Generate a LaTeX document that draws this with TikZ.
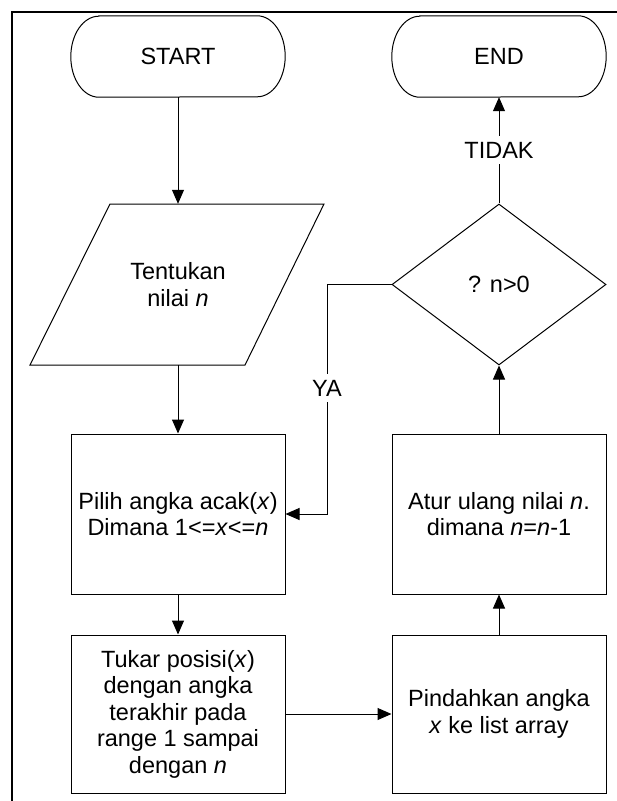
\documentclass[tikz,border=0pt]{standalone}
\usepackage{fontspec}
\setmainfont{Liberation Sans}
\usetikzlibrary{shapes.geometric,arrows.meta,calc}
\newcommand\drawpill[1]{\draw[line width=1pt] ([xshift=28pt]#1.north west) -- ([xshift=-28pt]#1.north east) arc[start angle=90,end angle=-90,x radius=28pt,y radius=40.5pt] -- ([xshift=28pt]#1.south west) arc[start angle=270,end angle=90,x radius=28pt,y radius=40.5pt] -- cycle;}
\begin{document}
\begin{tikzpicture}[x=1pt,y=-1pt,
  every node/.style={font=\fontsize{23.5}{26.5}\selectfont, align=center},
  boxnode/.style={draw, line width=1pt, minimum width=214pt, minimum height=160pt, inner sep=0pt},
  pill/.style={minimum width=214pt, minimum height=81pt, inner sep=0pt},
  arr/.style={line width=1pt, -{Triangle[length=14pt,width=12pt]}},
  lbl/.style={fill=white, inner xsep=2pt, inner ysep=6pt},
]
\useasboundingbox (0,0) rectangle (617,801);
% frame
\draw[line width=2.2pt] (12,801) -- (12,12) -- (617,12);

% terminals
\node[pill] (start) at (178,56.5) {START};
\drawpill{start}
\node[pill] (end) at (499,56.5) {END};
\drawpill{end}

% input parallelogram
\node[minimum width=214pt, minimum height=161pt, inner sep=0pt] (inp) at (178,284.5) {Tentukan\\nilai \textit{n}};
\draw[line width=1pt] ($(inp.center)+(-148,80.5)$) -- ($(inp.center)+(67,80.5)$) -- ($(inp.center)+(146,-80.5)$) -- ($(inp.center)+(-68,-80.5)$) -- cycle;

% process boxes
\node[boxnode] (pilih) at (178,514) {Pilih angka acak(\textit{x})\\Dimana 1<=\textit{x}<=\textit{n}};
\node[boxnode, minimum height=158pt] (tukar) at (178,714) {Tukar posisi(\textit{x})\\dengan angka\\terakhir pada\\range 1 sampai\\dengan \textit{n}};
\node[boxnode, minimum height=158pt] (pind) at (499,714) {Pindahkan angka\\\textit{x} ke list array};
\node[boxnode] (atur) at (499,514) {Atur ulang nilai \textit{n}.\\dimana \textit{n}=\textit{n}-1};

% decision
\node[diamond, draw, line width=1pt, minimum width=214pt, minimum height=161pt, inner sep=0pt] (dec) at (499,284.5) {? n>0};

% connectors
\draw[arr] (start) -- (inp);
\draw[arr] (inp) -- (pilih);
\draw[arr] (pilih) -- (tukar);
\draw[arr] (tukar) -- (pind);
\draw[arr] (pind) -- (atur);
\draw[arr] (atur) -- (dec);
\draw[arr] (dec) -- node[lbl] (tidak) {TIDAK} (end);
\coordinate (yc) at (327,514);
\draw[arr] (dec.west) -| (yc) -- (pilih.east);
\node[lbl] (ya) at (327,388) {YA};
\end{tikzpicture}
\end{document}
